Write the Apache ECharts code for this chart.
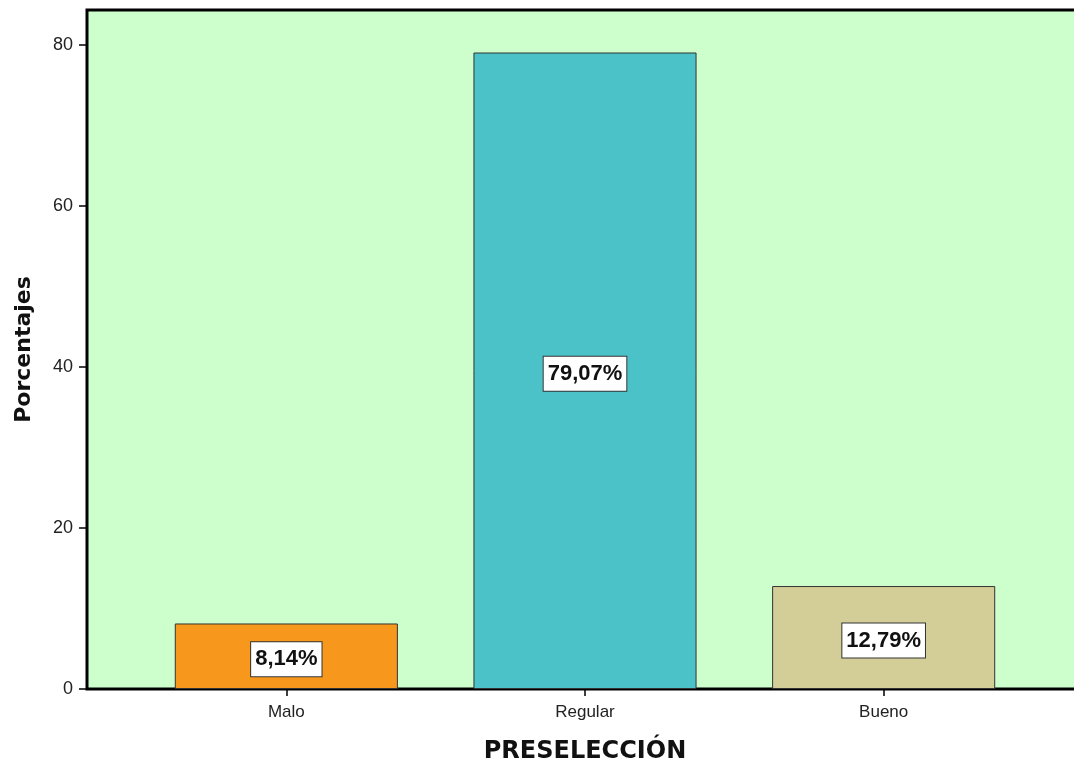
<!DOCTYPE html>
<html>
<head>
<meta charset="utf-8">
<script src="https://cdn.jsdelivr.net/npm/echarts@6/dist/echarts.min.js"></script>
<style>
  html, body { margin: 0; padding: 0; background: #ffffff; }
  #chart { width: 1074px; height: 762px; }
</style>
</head>
<body>
<div id="chart"></div>
<script>
// Distribution of the PRESELECCIÓN rating, in percent
const categories = ['Malo', 'Regular', 'Bueno'];
const percentages = [8.14, 79.07, 12.79];
const barColors = ['#F7981D', '#4BC2C7', '#D3CE98'];
const yTicks = [0, 20, 40, 60, 80];

const Y_MAX = 84.35;

const chart = echarts.init(document.getElementById('chart'), null, { renderer: 'canvas' });

const option = {
  backgroundColor: '#ffffff',
  animation: false,
  grid: [
    // plot panel (background, frame and value axis); runs past the right edge
    { left: 87, top: 10, width: 1020, bottom: 73, show: true, outerBoundsMode: 'none',
      containLabel: false,
      backgroundColor: '#CCFFCC', borderColor: '#000000', borderWidth: 3 },
    // inner band holding the bars
    { left: 137, top: 10, width: 896, bottom: 73, outerBoundsMode: 'none', containLabel: false }
  ],
  xAxis: [
    { gridIndex: 0, type: 'value', min: 0, max: 1, show: false },
    {
      gridIndex: 1,
      type: 'category',
      data: categories,
      boundaryGap: true,
      name: 'PRESELECCIÓN',
      nameLocation: 'middle',
      nameGap: 51,
      nameTextStyle: { fontFamily: 'DejaVu Sans', fontWeight: 'bold', fontSize: 24, color: '#111111' },
      axisLine: { show: false },
      axisTick: { show: true, alignWithLabel: true, length: 7, lineStyle: { color: '#000000', width: 1.5 } },
      axisLabel: { margin: 15, fontFamily: 'Liberation Sans', fontSize: 17, color: '#222222' },
      splitLine: { show: false }
    }
  ],
  yAxis: [
    {
      gridIndex: 0,
      type: 'value',
      min: 0,
      max: Y_MAX,
      name: 'Porcentajes',
      nameLocation: 'middle',
      nameGap: 52,
      nameTextStyle: { fontFamily: 'DejaVu Sans', fontWeight: 'bold', fontSize: 22, color: '#111111' },
      axisLine: { show: false },
      axisTick: { show: true, length: 8, customValues: yTicks, lineStyle: { color: '#000000', width: 1.5 } },
      axisLabel: {
        margin: 14,
        fontFamily: 'Liberation Sans',
        fontSize: 18,
        color: '#222222',
        customValues: yTicks
      },
      splitLine: { show: false }
    },
    { gridIndex: 1, type: 'value', min: 0, max: Y_MAX, show: false }
  ],
  series: [
    {
      type: 'bar',
      xAxisIndex: 1,
      yAxisIndex: 1,
      barWidth: '74.7%',
      data: percentages.map((v, i) => ({
        value: v,
        itemStyle: { color: barColors[i], borderColor: '#333333', borderWidth: 1 }
      })),
      label: {
        show: true,
        position: 'inside',
        offset: [0, 3],
        formatter: p => p.value.toFixed(2).replace('.', ',') + '%',
        fontFamily: 'Liberation Sans',
        fontWeight: 'bold',
        fontSize: 22,
        color: '#111111',
        backgroundColor: '#ffffff',
        borderColor: '#333333',
        borderWidth: 1,
        padding: [5, 4, 4, 4],
        lineHeight: 25
      }
    }
  ]
};

chart.setOption(option);
</script>
</body>
</html>
